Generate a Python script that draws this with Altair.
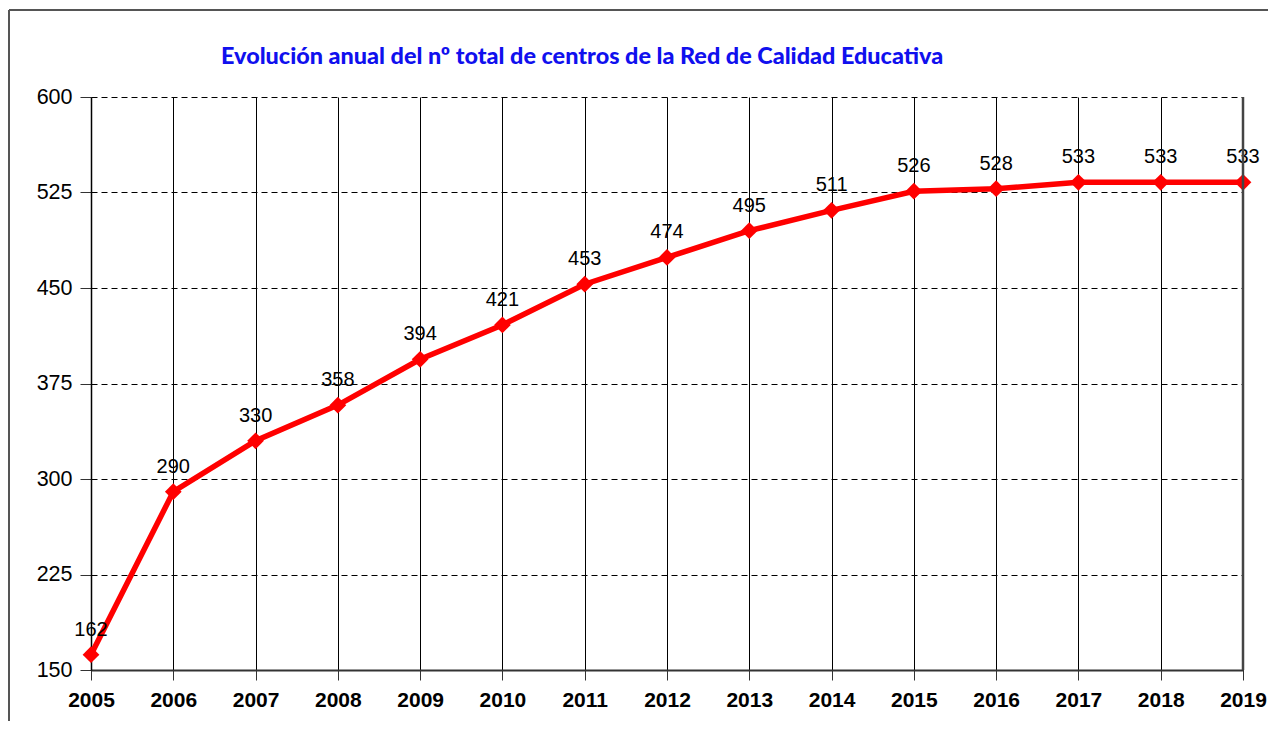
import altair as alt
import pandas as pd

years = [2005, 2006, 2007, 2008, 2009, 2010, 2011, 2012, 2013, 2014, 2015, 2016, 2017, 2018, 2019]
centros = [162, 290, 330, 358, 394, 421, 453, 474, 495, 511, 526, 528, 533, 533, 533]
y_ticks = [150, 225, 300, 375, 450, 525, 600]
title_text = "Evolución anual del nº total de centros de la Red de Calidad Educativa"

df = pd.DataFrame({"year": years, "centros": centros})

W, H = 1152, 573

xenc = alt.X("year:Q", scale=alt.Scale(domain=[2005, 2019], nice=False, zero=False),
             axis=alt.Axis(values=years, format="d", title=None, grid=True, gridColor="#000000",
                           gridWidth=1, gridOpacity=1, labelFont="Liberation Sans", labelFontWeight="bold",
                           labelFontSize=21, labelColor="#000000", labelPadding=9, tickSize=10,
                           labelFlush=False, labelBound=False, labelOverlap=False,
                           tickColor="#333333", domainColor="#333333", domainWidth=2))
yenc = alt.Y("centros:Q", scale=alt.Scale(domain=[150, 600], nice=False, zero=False),
             axis=alt.Axis(values=y_ticks, title=None, grid=True, gridColor="#000000", gridDash=[6, 4],
                           gridWidth=1, gridOpacity=1, labelFont="Liberation Sans", labelFontSize=21.5,
                           labelColor="#000000", labelPadding=8, tickSize=11, tickColor="#333333",
                           labelFlush=False, labelBound=False, labelOverlap=False,
                           domainColor="#000000", domainWidth=1.5))

base = alt.Chart(df)
line = base.mark_line(color="#ff0000", strokeWidth=5.5).encode(x=xenc, y=yenc)
points = base.mark_point(shape="diamond", filled=True, color="#ff0000", opacity=1, size=280).encode(x="year:Q", y="centros:Q")
labels = base.mark_text(font="Liberation Sans", fontSize=20, color="#000000", dy=-25, baseline="middle").encode(
    x="year:Q", y="centros:Q", text="centros:Q")

rightline = alt.Chart(pd.DataFrame({"a": [0]})).mark_rule(color="#444444", strokeWidth=2.5).encode(
    x=alt.value(W), y=alt.value(0), y2=alt.value(H))

title = alt.Chart(pd.DataFrame({"t": [title_text]})).mark_text(
    font="Lato", fontWeight=900, fontSize=23.4, color="#1010ee", align="left", baseline="middle"
).encode(x=alt.value(130), y=alt.value(-40), text="t:N")

frame_top = alt.Chart(pd.DataFrame({"a": [0]})).mark_rule(color="#555555", strokeWidth=2).encode(
    x=alt.value(-82), x2=alt.value(1200), y=alt.value(-87))
frame_left = alt.Chart(pd.DataFrame({"a": [0]})).mark_rule(color="#555555", strokeWidth=2).encode(
    x=alt.value(-82), y=alt.value(-87), y2=alt.value(700))

chart = alt.layer(frame_top, frame_left, line, points, labels, rightline, title).properties(
    width=W, height=H,
    autosize=alt.AutoSizeParams(type="none"),
    padding={"left": 83, "top": 89, "right": 25, "bottom": 51},
    background="#ffffff",
).configure_view(stroke=None)

chart.save("out.html", embed_options={"renderer": "svg", "actions": False})
